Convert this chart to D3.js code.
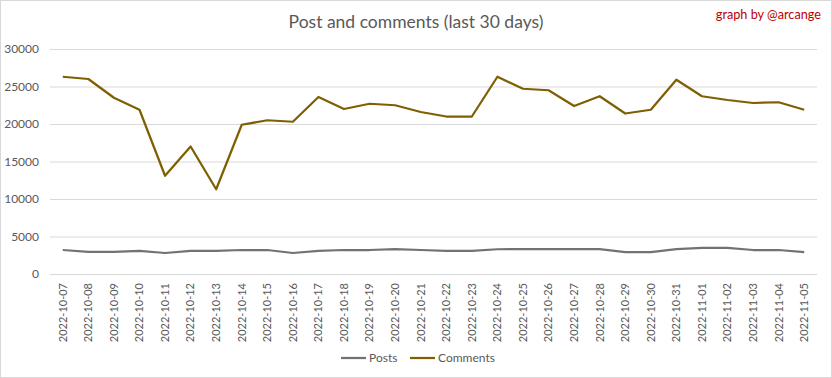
<!DOCTYPE html>
<html>
<head>
<meta charset="utf-8">
<script src="https://cdn.jsdelivr.net/npm/d3@7"></script>
<style>
  body { margin: 0; background: #fff; }
  text { font-family: Lato, "DejaVu Sans Condensed", sans-serif; fill: #595959; }
</style>
</head>
<body>
<div id="chart"></div>
<script>
// data
const days = ['2022-10-07','2022-10-08','2022-10-09','2022-10-10','2022-10-11','2022-10-12','2022-10-13',
  '2022-10-14','2022-10-15','2022-10-16','2022-10-17','2022-10-18','2022-10-19','2022-10-20','2022-10-21',
  '2022-10-22','2022-10-23','2022-10-24','2022-10-25','2022-10-26','2022-10-27','2022-10-28','2022-10-29',
  '2022-10-30','2022-10-31','2022-11-01','2022-11-02','2022-11-03','2022-11-04','2022-11-05'];
const posts = [3200,2950,2950,3070,2800,3070,3070,3200,3200,2800,3070,3200,3200,3330,3200,
  3070,3070,3300,3330,3330,3330,3330,2930,2930,3330,3470,3470,3200,3200,2930];
const comments = [26300,26000,23500,21900,13100,17000,11300,19900,20500,20300,23600,22000,22700,22500,21600,
  21000,21000,26300,24700,24500,22400,23700,21400,21900,25900,23700,23200,22800,22900,21900];
const yTicks = [0,5000,10000,15000,20000,25000,30000];
const seriesNames = ['Posts','Comments'];
const seriesColors = ['#767171','#7f6000'];

const width = 832, height = 378;
const margin = {top: 49, right: 15, bottom: 104, left: 50};
const w = width - margin.left - margin.right,
      h = height - margin.top - margin.bottom;

const svg = d3.select('#chart').append('svg')
  .attr('width', width)
  .attr('height', height);

// outer frame
svg.append('rect')
  .attr('x', 0.5).attr('y', 0.5)
  .attr('width', width - 1).attr('height', height - 1)
  .attr('fill', '#fff').attr('stroke', '#d9d9d9');

const g = svg.append('g').attr('transform', `translate(${margin.left},${margin.top})`);

// scales
const xScale = d3.scaleBand().domain(days).range([0, w]);
const yScale = d3.scaleLinear().domain([0, 30000]).range([h, 0]);
const xc = d => xScale(d) + xScale.bandwidth() / 2;

// gridlines + y labels
const yAxis = d3.axisLeft(yScale).tickValues(yTicks).tickSize(-w).tickFormat(d3.format('d'));
const yAxisDraw = g.append('g').attr('class', 'y axis').call(yAxis);
yAxisDraw.select('.domain').remove();
yAxisDraw.selectAll('line').attr('stroke', '#d9d9d9');
yAxisDraw.selectAll('text').attr('x', -11).style('font-size', '12px').attr('fill', '#595959');

// x labels
const xAxis = d3.axisBottom(xScale).tickSize(0);
const xAxisDraw = g.append('g').attr('class', 'x axis')
  .attr('transform', `translate(0,${h})`).call(xAxis);
xAxisDraw.select('.domain').remove();
xAxisDraw.selectAll('text')
  .attr('transform', 'rotate(-90)')
  .attr('x', -9).attr('y', 0).attr('dy', '0.35em')
  .style('text-anchor', 'end')
  .style('font-size', '11px')
  .attr('fill', '#595959');

// lines
const line = d3.line().x((d, i) => xc(days[i])).y(d => yScale(d));
[posts, comments].forEach((vals, i) => {
  g.append('path')
    .datum(vals)
    .attr('d', line)
    .attr('fill', 'none')
    .attr('stroke', seriesColors[i])
    .attr('stroke-width', 2.25)
    .attr('stroke-linejoin', 'round');
});

// title
svg.append('text')
  .attr('x', 416).attr('y', 28)
  .attr('text-anchor', 'middle')
  .style('font-size', '17.5px')
  .text('Post and comments (last 30 days)');

svg.append('text')
  .attr('x', 821).attr('y', 19)
  .attr('text-anchor', 'end')
  .style('font-size', '12.7px')
  .style('fill', '#c00000')
  .text('graph by @arcange');

// legend
const legendX = [341, 410];
const legend = svg.append('g').attr('transform', 'translate(0,358)');
seriesNames.forEach((name, i) => {
  legend.append('line')
    .attr('x1', legendX[i]).attr('x2', legendX[i] + 25)
    .attr('y1', 0).attr('y2', 0)
    .attr('stroke', seriesColors[i]).attr('stroke-width', 2.25);
  legend.append('text')
    .attr('x', legendX[i] + 28).attr('y', 0).attr('dy', '0.35em')
    .style('font-size', '12px')
    .text(name);
});
</script>
</body>
</html>
